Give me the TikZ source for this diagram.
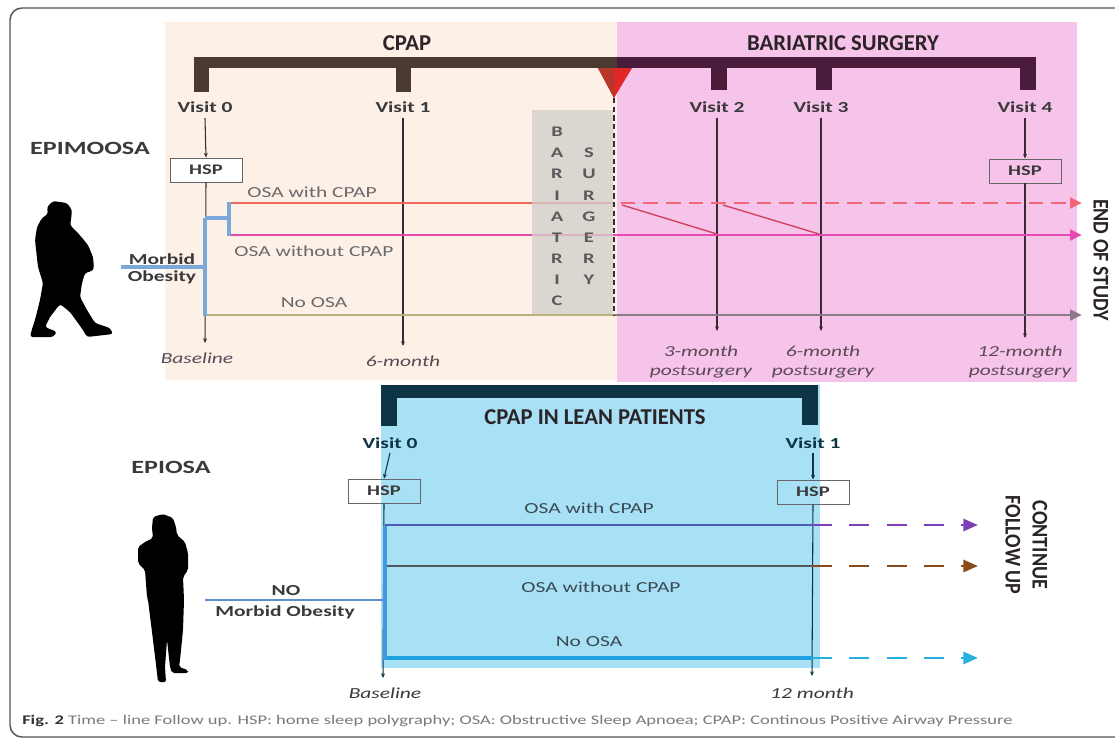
\documentclass[tikz,border=0pt]{standalone}
\usepackage{fontspec}
\setmainfont{Carlito}
\newfontfamily\widefont{Carlito}[FakeStretch=1.4,Ligatures=TeX]
\usetikzlibrary{arrows.meta}

\definecolor{peach}{HTML}{FDF0E7}
\definecolor{pinkbg}{HTML}{F6C3EA}
\definecolor{brownbar}{HTML}{4A3A32}
\definecolor{plumbar}{HTML}{4A1B3B}
\definecolor{redtri}{HTML}{E02828}
\definecolor{redtridark}{HTML}{B8362A}
\definecolor{titlecol}{HTML}{2B2326}
\definecolor{labdark}{HTML}{3A3A3A}
\definecolor{labgray}{HTML}{6A6A6A}
\definecolor{timecol}{HTML}{5A4A56}
\definecolor{vline}{HTML}{3A2A33}
\definecolor{coral}{HTML}{F0685A}
\definecolor{coraldash}{HTML}{F26677}
\definecolor{magentaline}{HTML}{E64BB0}
\definecolor{connblue}{HTML}{7AA8DA}
\definecolor{olive}{HTML}{B5B27C}
\definecolor{mauvegray}{HTML}{8C7C86}
\definecolor{diag}{HTML}{D0405A}
\definecolor{surgbox}{HTML}{D3CFCC}
\definecolor{surgtext}{HTML}{5A5A5A}
\definecolor{lightblue}{HTML}{A8E0F5}
\definecolor{navybar}{HTML}{0D3545}
\definecolor{bluepurple}{HTML}{4B5BB8}
\definecolor{purpledash}{HTML}{7B3FB8}
\definecolor{slate}{HTML}{505A5E}
\definecolor{browndash}{HTML}{8B4A1A}
\definecolor{skyline}{HTML}{1FA2E2}
\definecolor{skydash}{HTML}{25B0E0}
\definecolor{leftblue}{HTML}{3D9BE0}
\definecolor{morbidblue}{HTML}{5B8FD0}
\definecolor{botlab}{HTML}{3A4A52}
\definecolor{framecol}{HTML}{555555}
\definecolor{capgray}{HTML}{7A7A7A}
\definecolor{capdark}{HTML}{333333}

\tikzset{
  titletext/.style={font=\bfseries\fontsize{17}{20}\selectfont, text=titlecol, inner sep=0pt},
  visitlab/.style={font=\widefont\bfseries\fontsize{11.5}{13}\selectfont, text=labdark, inner sep=0pt},
  grouplab/.style={font=\widefont\bfseries\fontsize{11.5}{13}\selectfont, text=labdark, inner sep=0pt},
  studylab/.style={font=\widefont\bfseries\fontsize{14}{16}\selectfont, text=labdark, inner sep=0pt},
  armlab/.style={font=\widefont\fontsize{11.5}{13}\selectfont, text=labgray, inner sep=0pt},
  botarm/.style={font=\widefont\fontsize{11.5}{13}\selectfont, text=botlab, inner sep=0pt},
  timelab/.style={font=\widefont\itshape\fontsize{11.5}{14}\selectfont, text=timecol, inner sep=0pt, align=center},
  hspbox/.style={draw=gray!80!black, line width=0.7pt, minimum width=54pt, minimum height=18pt, inner sep=0pt,
                 font=\widefont\bfseries\fontsize{11}{13}\selectfont, text=labdark},
  surgletter/.style={font=\widefont\bfseries\fontsize{11}{13}\selectfont, text=surgtext, inner sep=0pt},
  sidelab/.style={font=\bfseries\fontsize{15}{18}\selectfont, text=titlecol, inner sep=0pt, rotate=-90},
  visitline/.style={draw=vline, line width=0.8pt, -{Stealth[length=3.5pt,width=3pt]}},
  armline/.style={line width=2.2pt},
  armtip/.style={-{Triangle[length=9pt,width=8pt]}},
  longdash/.style={dash pattern=on 11pt off 6pt},
  botdash/.style={dash pattern=on 15pt off 13pt},
}

\begin{document}
\begin{tikzpicture}[x=0.75pt,y=-0.75pt]
\useasboundingbox (0,0) rectangle (1115,740);
\fill[white] (0,0) rectangle (1115,740);

% outer frame
\draw[framecol, line width=1.1pt, rounded corners=9pt] (10,8) rectangle (1150,737);

% ---------- upper study: phase backgrounds ----------
\fill[peach] (165,22) rectangle (617,380);
\fill[pinkbg] (617,22) rectangle (1077,382);

% phase brackets
\fill[brownbar] (194,57) rectangle (617,68);
\fill[plumbar] (617,57) rectangle (1036,68);
\fill[brownbar] (194,57) rectangle (209,92);
\fill[brownbar] (396,57) rectangle (411,92);
\fill[plumbar] (711,57) rectangle (727,90);
\fill[plumbar] (816,57) rectangle (832,90);
\fill[plumbar] (1020,57) rectangle (1036,90);

\node[titletext] (cpap) at (407,43) {CPAP};
\node[titletext] (bariatric) at (843,43) {BARIATRIC SURGERY};

% surgery marker
\fill[redtri] (598,68) -- (632,68) -- (614,98) -- cycle;
\fill[redtridark] (598,68) -- (614,68) -- (614,98) -- cycle;
\coordinate (surgtop) at (614,98);
\coordinate (surgbot) at (614,316);

% visits
\node[visitlab] (v0) at (205,107) {Visit 0};
\node[visitlab] (v1) at (403,107) {Visit 1};
\node[visitlab] (v2) at (717,107) {Visit 2};
\node[visitlab] (v3) at (821,107) {Visit 3};
\node[visitlab] (v4) at (1025,107) {Visit 4};

\node[hspbox, fill=white] (hsp0) at (206,170) {HSP};
\node[hspbox] (hsp4) at (1025,171) {HSP};

\coordinate (e0) at (205,343);
\coordinate (e1) at (403,346);
\coordinate (e2) at (717,331);
\coordinate (e3) at (821,331);
\coordinate (e4) at (1025,338);

% follow-up arms
\coordinate (cpapA) at (229,203);
\coordinate (cpapB) at (614,203);
\coordinate (cpapC) at (1082,203);
\coordinate (nocA) at (229,235);
\coordinate (nocC) at (1082,235);
\coordinate (nosaA) at (205,315);
\coordinate (nosaB) at (614,315);
\coordinate (nosaC) at (1082,315);
\coordinate (crossA) at (622,205);
\coordinate (crossB) at (717,234);
\coordinate (crossC) at (723,205);
\coordinate (crossD) at (819,234);

\draw[visitline] ([yshift=-4pt]v0.south) -- (hsp0.north);
\draw[visitline] (hsp0.south) -- (e0);
\draw[visitline] ([yshift=-4pt]v1.south) -- (e1);
\draw[visitline] ([yshift=-4pt]v2.south) -- (e2);
\draw[visitline] ([yshift=-4pt]v3.south) -- (e3);
\draw[visitline] ([yshift=-4pt]v4.south) -- (hsp4.north);
\draw[visitline] (hsp4.south) -- (e4);

\draw[armline, coral] (cpapA) -- (cpapB);
\draw[armline, coraldash, longdash, armtip] ([xshift=5pt]cpapB) -- (cpapC);
\draw[armline, magentaline, armtip] (nocA) -- (nocC);
\draw[armline, olive] (nosaA) -- (nosaB);
\draw[armline, mauvegray, armtip] (nosaB) -- (nosaC);
\draw[diag, line width=1pt] (crossA) -- (crossB);
\draw[diag, line width=1pt] (crossC) -- (crossD);

% branching from morbid obesity
\coordinate (moL) at (121,267);
\coordinate (moR) at (205,267);
\coordinate (brTop) at (205,218);
\coordinate (brBot) at (205,316);
\coordinate (brMid) at (229,218);
\draw[connblue, line width=2.4pt] (brTop) -- (brBot);
\draw[connblue, line width=2.4pt] (moL) -- (moR);
\draw[connblue, line width=2.4pt] (brTop) -- (brMid);
\draw[connblue, line width=2.4pt] ([yshift=1pt]cpapA) -- ([yshift=-1pt]nocA);

% surgery period box
\fill[surgbox, opacity=0.78] (532,110) rectangle (613,314);
\foreach \ch [count=\i from 0] in {B,A,R,I,A,T,R,I,C}
  \node[surgletter] (sa\i) at (557,{132+21.1*\i}) {\ch};
\foreach \ch [count=\i from 0] in {S,U,R,G,E,R,Y}
  \node[surgletter] (sb\i) at (589,{153+21.2*\i}) {\ch};
\draw[vline, line width=2pt, dash pattern=on 4pt off 2.5pt] (surgtop) -- (surgbot);

% labels
\node[armlab] (lcpap) at (312,192) {OSA with CPAP};
\node[armlab] (lnoc) at (314,251) {OSA without CPAP};
\node[armlab] (lnosa) at (314,303) {No OSA};
\node[grouplab] (morbid) at (162,259) {Morbid};
\node[grouplab] (obesity) at (162,277) {Obesity};
\node[studylab] (epimoosa) at (90,148) {EPIMOOSA};

\node[timelab] (t0) at (197,358) {Baseline};
\node[timelab] (t1) at (403,361) {6-month};
\node[timelab] (t2) at (701,362) {3-month\\postsurgery};
\node[timelab] (t3) at (823,362) {6-month\\postsurgery};
\node[timelab] (t4) at (1020,362) {12-month\\postsurgery};

\node[sidelab] (end) at (1101,260) {\scalebox{1}[1.12]{END OF STUDY}};

% walking silhouette
\fill[black, rounded corners=2pt]
  (53,201) -- (67,203) -- (72,210) -- (71,220) -- (70,225) -- (78,233) -- (88,245)
  -- (93,257) -- (94,268) -- (92,271) -- (85,273) -- (82,283) -- (80,297) -- (87,310)
  -- (95,323) -- (110,328) -- (113,334) -- (87,337) -- (83,330) -- (70,312) -- (60,304)
  -- (50,317) -- (45,327) -- (57,332) -- (53,337) -- (30,337) -- (32,329) -- (35,320)
  -- (40,300) -- (43,283) -- (38,267) -- (35,240) -- (37,227) -- (42,218) -- (48,214)
  -- (47,207) -- cycle;

% ---------- lower study ----------
\fill[lightblue] (381,385) rectangle (820,668);
\fill[navybar] (381,385) rectangle (818,398);
\fill[navybar] (381,385) rectangle (397,426);
\fill[navybar] (802,385) rectangle (818,425);
\node[titletext] (lean) at (595,417) {CPAP IN LEAN PATIENTS};

\node[visitlab, text=navybar] (w0) at (390,443) {Visit 0};
\node[visitlab, text=navybar] (w1) at (813,443) {Visit 1};
\node[hspbox] (whsp0) at (384,491) {HSP};
\node[hspbox] (whsp1) at (813,492) {HSP};

\coordinate (f0) at (383,678);
\coordinate (f1) at (812,676);
\draw[visitline, draw=navybar] ([yshift=-3pt]w0.south) -- (whsp0.north);
\draw[visitline, draw=navybar] (whsp0.south) -- (f0);
\draw[visitline, draw=navybar] ([yshift=-3pt]w1.south) -- (whsp1.north);
\draw[visitline, draw=navybar] (whsp1.south) -- (f1);

\coordinate (pA) at (385,525);
\coordinate (pB) at (812,525);
\coordinate (pC) at (978,525);
\coordinate (qA) at (385,566);
\coordinate (qB) at (812,566);
\coordinate (qC) at (978,566);
\coordinate (rA) at (385,658);
\coordinate (rB) at (812,658);
\coordinate (rC) at (978,658);

\draw[armline, bluepurple] (pA) -- (pB);
\draw[armline, purpledash, botdash, -{Triangle[length=11pt,width=9pt]}] (pB) -- (pC);
\draw[armline, slate] (qA) -- (qB);
\draw[armline, browndash, botdash, -{Triangle[length=11pt,width=9pt]}] (qB) -- (qC);
\draw[line width=2.6pt, skyline] (rA) -- (rB);
\draw[armline, skydash, botdash, -{Triangle[length=11pt,width=9pt]}] (rB) -- (rC);

\coordinate (nmL) at (205,600);
\coordinate (nmR) at (385,600);
\coordinate (lbTop) at (385,526);
\coordinate (lbBot) at (385,660);
\draw[leftblue, line width=2.4pt] (lbTop) -- (lbBot);
\draw[morbidblue, line width=2pt] (nmL) -- (nmR);

\node[botarm] (mcpap) at (589,508) {OSA with CPAP};
\node[botarm] (mnoc) at (601,587) {OSA without CPAP};
\node[botarm] (mnosa) at (589,642) {No OSA};
\node[grouplab] (no) at (286,591) {NO};
\node[grouplab] (mob) at (285,612) {Morbid Obesity};
\node[studylab] (epiosa) at (171,467) {EPIOSA};

\node[timelab, text=labdark] (s0) at (385,693) {Baseline};
\node[timelab, text=labdark] (s1) at (812,693) {12 month};

\node[sidelab] (cont) at (1040,545) {\scalebox{1}[1.12]{CONTINUE}};
\node[sidelab] (fol) at (1013,545) {\scalebox{1}[1.12]{FOLLOW UP}};

% standing silhouette
\fill[black, rounded corners=1.5pt]
  (153,517) -- (163,514) -- (173,518) -- (176,527) -- (177,535) -- (185,542) -- (188,553)
  -- (188,570) -- (183,577) -- (184,600) -- (183,630) -- (180,660) -- (179,667)
  -- (188,670) -- (188,673) -- (172,673) -- (170,667) -- (167,640) -- (165,667)
  -- (166,682) -- (158,682) -- (157,673) -- (153,640) -- (148,600) -- (147,597)
  -- (145,570) -- (138,563) -- (138,547) -- (145,542) -- (153,538) -- (152,528) -- cycle;

% caption
\node[anchor=west, inner sep=0pt, font=\widefont\fontsize{9.9}{11}\selectfont, text=capgray] (caption) at (22,721)
  {{\bfseries\color{capdark}Fig. 2} Time – line Follow up. HSP: home sleep polygraphy; OSA: Obstructive Sleep Apnoea; CPAP: Continous Positive Airway Pressure};
\end{tikzpicture}
\end{document}
